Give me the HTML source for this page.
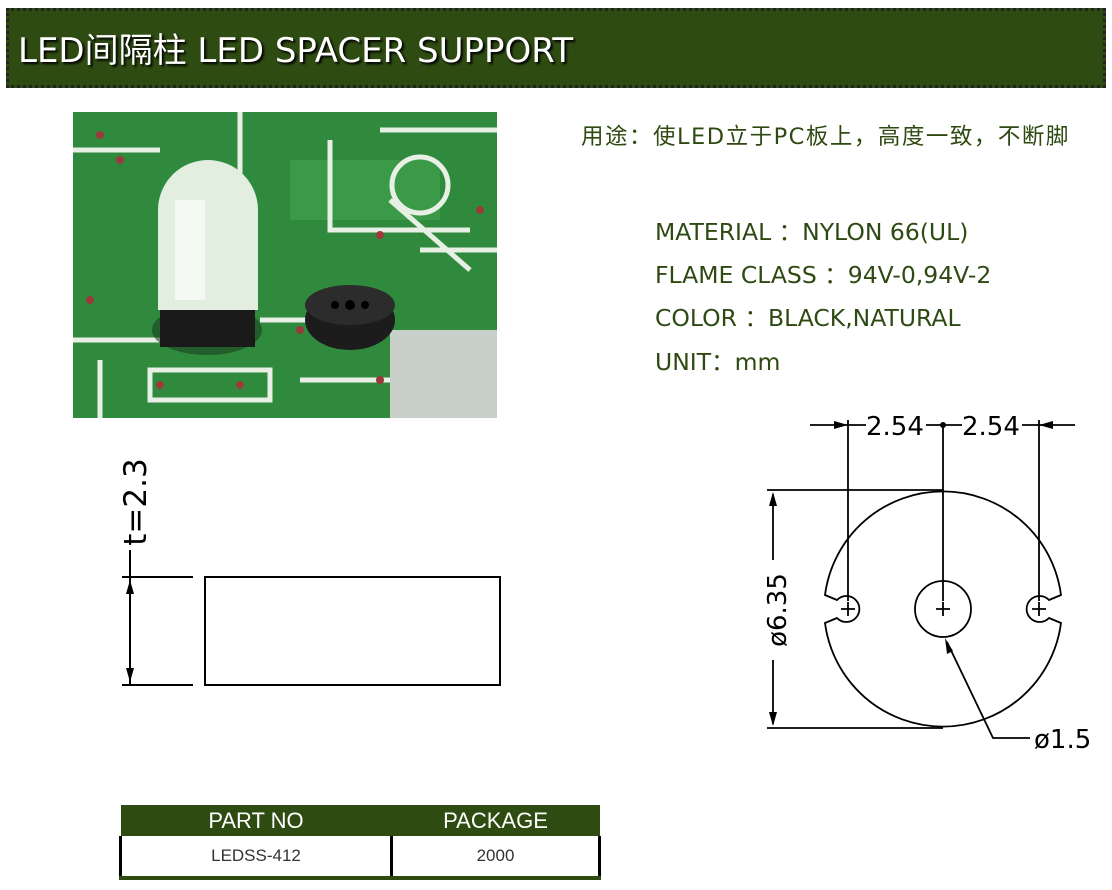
<!DOCTYPE html>
<html><head><meta charset="utf-8"><style>
body{margin:0;width:1112px;height:890px;background:#fff;position:relative;overflow:hidden;font-family:"Liberation Sans","Noto Sans CJK SC",sans-serif}
.hdr{position:absolute;left:6px;top:8px;width:1100px;height:80px;background:#2e4b12;border:3px dotted #222;box-sizing:border-box}
.hdr span{position:absolute;left:9px;top:12px;font-size:34px;color:#fff;text-shadow:2px 2px 2px #000;font-family:"DejaVu Sans","Noto Sans CJK SC",sans-serif}
.t{position:absolute;color:#2e4a12;font-size:23.5px;font-family:"DejaVu Sans","Noto Sans CJK SC",sans-serif;white-space:nowrap}
table{position:absolute;left:119px;top:805px;width:482px;border-collapse:collapse;table-layout:fixed}
th{background:#2e4b12;color:#fff;font-weight:normal;font-size:22px;height:31px;padding:0}
td{height:40px;text-align:center;font-size:17px;color:#333;border:3px solid #000;border-top:none;border-bottom:4px solid #2e4b12;padding:0}
</style></head><body>
<div class="hdr"><span>LED间隔柱 LED SPACER SUPPORT</span></div>
<div class="t" style="left:581px;top:119px;font-size:22.5px;letter-spacing:1.5px">用途：使LED立于PC板上，高度一致，不断脚</div>
<div class="t" style="left:655px;top:213px">MATERIAL ：NYLON 66(UL)</div>
<div class="t" style="left:655px;top:256px">FLAME CLASS ：94V-0,94V-2</div>
<div class="t" style="left:655px;top:299px">COLOR ：BLACK,NATURAL</div>
<div class="t" style="left:655px;top:343px">UNIT：mm</div>
<svg style="position:absolute;left:0;top:0" width="1112" height="890">
<g>
<rect x="73" y="112" width="424" height="306" fill="#2f8a3e"/>
<rect x="390" y="330" width="107" height="88" fill="#c9cfc9"/>
<rect x="290" y="160" width="150" height="60" fill="#3a9a48"/>
<g stroke="#e8efe4" stroke-width="5" fill="none">
<path d="M73 340 H200 M100 360 V418 M240 112 V200 M380 130 H497 M330 140 V230 H470 M420 250 H497 M390 200 L470 270 M73 150 H160 M150 370 H270 V400 H150Z M300 380 H390 M260 320 H310"/>
<circle cx="420" cy="185" r="28"/>
</g>
<g fill="#9a3a3a">
<circle cx="100" cy="135" r="4"/><circle cx="120" cy="160" r="4"/><circle cx="90" cy="300" r="4"/><circle cx="300" cy="330" r="4"/><circle cx="380" cy="380" r="4"/><circle cx="160" cy="385" r="4"/><circle cx="240" cy="385" r="4"/><circle cx="480" cy="210" r="4"/><circle cx="380" cy="235" r="4"/>
</g>
<ellipse cx="207" cy="330" rx="55" ry="25" fill="#1a4020" opacity=".6"/>
<rect x="160" y="305" width="95" height="42" fill="#1a1a1a"/>
<path d="M158 310 V210 A50 50 0 0 1 258 210 V310 Z" fill="#e2eee0"/>
<rect x="175" y="200" width="30" height="100" fill="#fff" opacity=".6"/>
<ellipse cx="350" cy="320" rx="45" ry="30" fill="#1c1c1c"/>
<ellipse cx="350" cy="305" rx="45" ry="20" fill="#2c2c2c"/>
<circle cx="335" cy="305" r="4" fill="#000"/><circle cx="365" cy="305" r="4" fill="#000"/><circle cx="350" cy="305" r="5" fill="#000"/>
</g>
<g stroke="#000" stroke-width="2" fill="none">
<rect x="205" y="577" width="295" height="108"/>
<path d="M122 577 H193 M122 685 H193 M130 550 V685"/>
</g>
<path d="M130 580 l-4 14 h8z M130 682 l-4 -14 h8z" fill="#000"/>
<text x="146" y="502" transform="rotate(-90 146 502)" text-anchor="middle" font-family="DejaVu Sans" font-size="31" fill="#000">t=2.3</text>
<g stroke="#000" stroke-width="1.8" fill="none">
<path d="M825 595 A119 119 0 0 1 1061 595 L1049 600 A13 13 0 1 0 1049 618 L1061 623 A119 119 0 0 1 825 623 L837 618 A13 13 0 1 0 837 600 Z"/>
<circle cx="943" cy="609" r="28"/>
<path d="M848 420 V601 M943 425 V601 M1039 420 V601 M810 425 H866 M926 425 H962 M1022 425 H1075 M767 490 H943 M767 728 H943 M773 494 V560 M773 660 V724"/>
<path d="M841 609 h14 M848 602 v14 M936 609 h14 M943 602 v14 M1032 609 h14 M1039 602 v14"/>
<path d="M947 642 L993 738 H1030"/>
</g>
<circle cx="943" cy="425" r="3" fill="#000"/>
<path d="M848 425 l-14 -4 v8z M1039 425 l14 -4 v8z M773 492 l-4 14 h8z M773 726 l-4 -14 h8z M945 638 l2 16 l6 -3z" fill="#000"/>
<g font-family="DejaVu Sans" font-size="26" fill="#000">
<text x="866" y="435">2.54</text>
<text x="962" y="435">2.54</text>
<text x="786" y="610" transform="rotate(-90 786 610)" text-anchor="middle">ø6.35</text>
<text x="1034" y="748">ø1.5</text>
</g>
</svg>
<table><colgroup><col style="width:271px"><col></colgroup><tr><th>PART NO</th><th>PACKAGE</th></tr><tr><td>LEDSS-412</td><td>2000</td></tr></table>
</body></html>
